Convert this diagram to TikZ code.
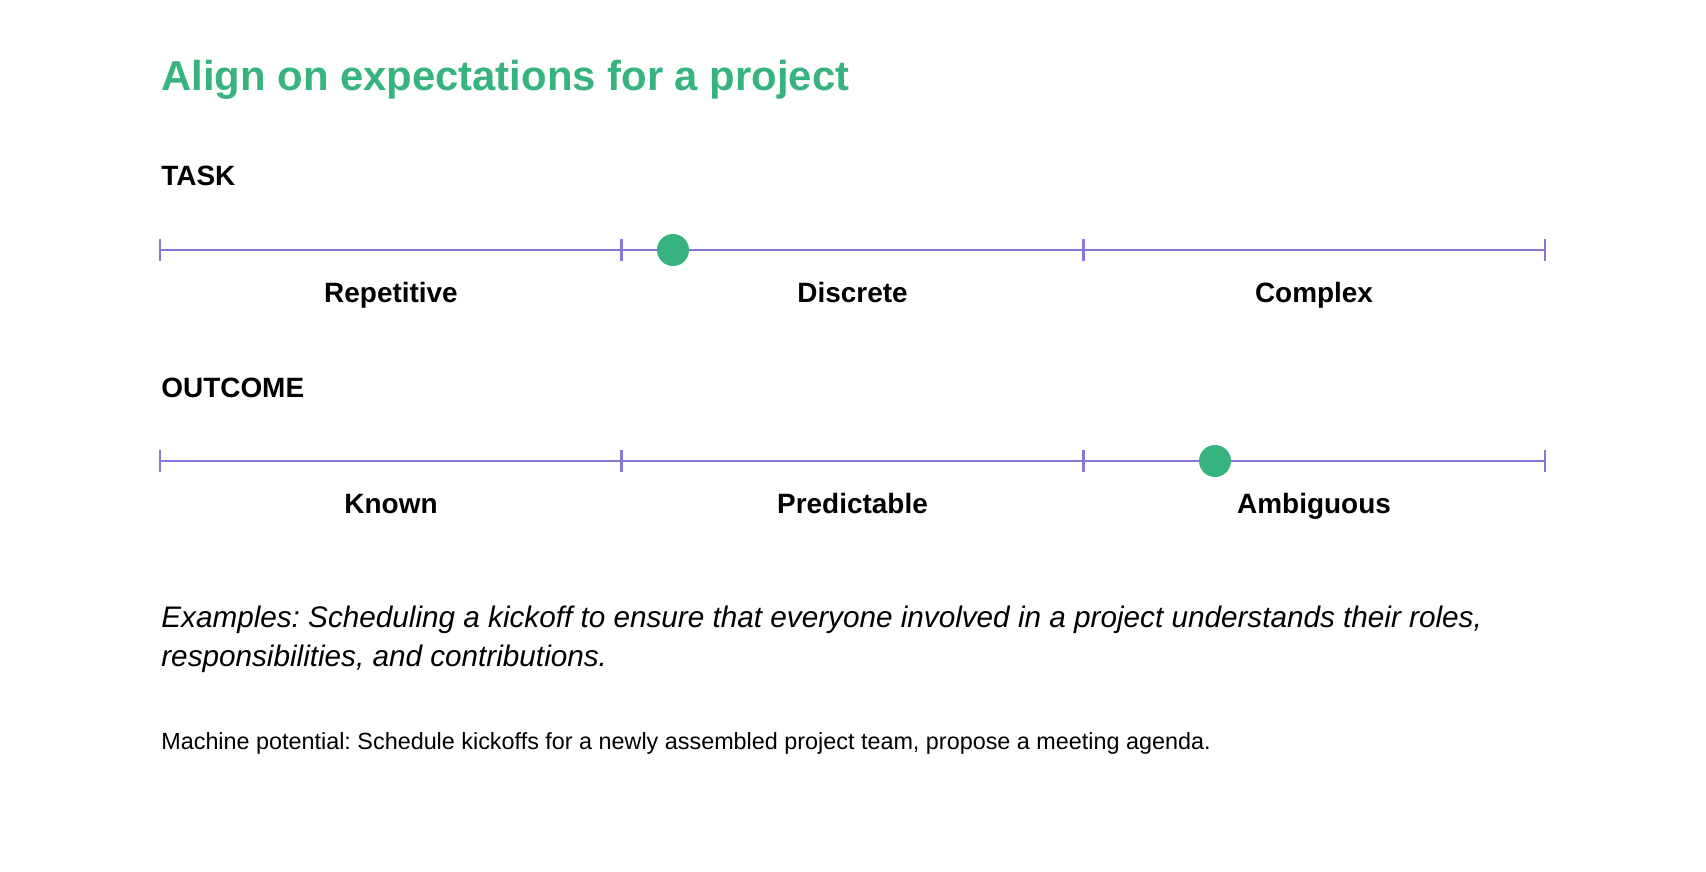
\documentclass[tikz,border=0pt]{standalone}
\usepackage{fontspec}
\setmainfont{Liberation Sans}
\frenchspacing
\definecolor{leafgreen}{HTML}{36B37E}
\definecolor{scalepurple}{HTML}{8777D9}
\begin{document}
\begin{tikzpicture}[
  scaleline/.style={scalepurple, line width=1.5pt},
  marker/.style={fill=leafgreen, draw=none},
  title/.style={anchor=base west, inner sep=0pt, text=leafgreen, font=\bfseries\fontsize{23.8}{28}\selectfont},
  axisname/.style={anchor=base west, inner sep=0pt, font=\bfseries\fontsize{15.9}{18}\selectfont},
  level/.style={anchor=base, inner sep=0pt, font=\bfseries\fontsize{15.9}{18}\selectfont},
  note/.style={anchor=base west, inner sep=0pt, align=left, font=\itshape\fontsize{16.9}{22.2}\selectfont},
  small/.style={anchor=base west, inner sep=0pt, font=\fontsize{13.3}{15}\selectfont}
]
  \useasboundingbox (0,0) rectangle (34.12,-17.44);
  \node[title] (head) at (3.22,-1.82) {Align on expectations for a project};

  % task scale
  \node[axisname] (task) at (3.22,-3.72) {TASK};
  \coordinate (ta) at (3.2,-5.0);
  \coordinate (tb) at (30.9,-5.0);
  \draw[scaleline] (ta) -- (tb);
  \foreach \x in {3.2,12.43,21.67,30.9}
    \draw[scaleline] (\x,-4.78) -- (\x,-5.22);
  \node[level] (repetitive) at (7.82,-6.04) {Repetitive};
  \node[level] (discrete) at (17.05,-6.04) {Discrete};
  \node[level] (complex) at (26.28,-6.04) {Complex};
  \filldraw[marker] (13.46,-5.0) circle (0.32);

  % outcome scale
  \node[axisname] (outcome) at (3.22,-7.95) {OUTCOME};
  \coordinate (oa) at (3.2,-9.22);
  \coordinate (ob) at (30.9,-9.22);
  \draw[scaleline] (oa) -- (ob);
  \foreach \x in {3.2,12.43,21.67,30.9}
    \draw[scaleline] (\x,-9.0) -- (\x,-9.44);
  \node[level] (known) at (7.82,-10.26) {Known};
  \node[level] (predictable) at (17.05,-10.26) {Predictable};
  \node[level] (ambiguous) at (26.28,-10.26) {Ambiguous};
  \filldraw[marker] (24.3,-9.22) circle (0.32);

  \node[note] (examples) at (3.22,-13.33) {Examples: Scheduling a kickoff to ensure that everyone involved in a project understands their roles,\\responsibilities, and contributions.};
  \node[small] (machine) at (3.22,-14.99) {Machine potential: Schedule kickoffs for a newly assembled project team, propose a meeting agenda.};
\end{tikzpicture}
\end{document}
